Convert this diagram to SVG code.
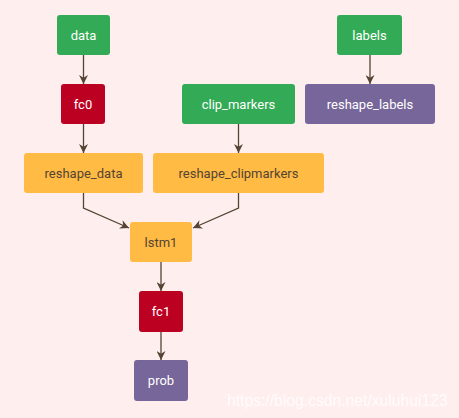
<svg xmlns="http://www.w3.org/2000/svg" width="459" height="418" viewBox="0 0 459 418">
<style>
.n rect{rx:3;ry:3}
.g rect{fill:#33aa55}
.r rect{fill:#bb0022}
.o rect{fill:#ffbb44}
.p rect{fill:#776699}
.n text{font-family:Roboto,"Liberation Sans",sans-serif;font-size:13px;text-anchor:middle;dominant-baseline:central;fill:#ffffff}
.o text{fill:#554433}
.e path{fill:none;stroke:#554433;stroke-width:1.3}
.wm{font-family:"Liberation Sans",Arial,sans-serif;font-size:15.7px;fill:#ffffff;opacity:0.85}
</style>
<defs>
<marker id="a" viewBox="0 0 10 10" refX="10" refY="5" markerWidth="9" markerHeight="9" markerUnits="userSpaceOnUse" orient="auto">
<path d="M0,0 L10,5 L0,10 L3,5 z" fill="#554433"/>
</marker>
</defs>
<rect width="459" height="418" fill="#ffeeee"/>
<g class="e">
<path d="M83.5,55 V84" marker-end="url(#a)"/>
<path d="M83.5,124 V153" marker-end="url(#a)"/>
<path d="M238.5,124 V153" marker-end="url(#a)"/>
<path d="M370,55 V84" marker-end="url(#a)"/>
<path d="M83.5,193 V208 L129,228" marker-end="url(#a)"/>
<path d="M238.5,193 V208 L193,228" marker-end="url(#a)"/>
<path d="M161,262 V291" marker-end="url(#a)"/>
<path d="M161,332 V360" marker-end="url(#a)"/>
</g>
<g id="data" class="n g"><rect x="57" y="15" width="53" height="40"/><text x="83.5" y="35">data</text></g>
<g id="labels" class="n g"><rect x="337" y="15" width="65" height="40"/><text x="369.5" y="35">labels</text></g>
<g id="fc0" class="n r"><rect x="61" y="84" width="44" height="40"/><text x="83" y="104">fc0</text></g>
<g id="clip_markers" class="n g"><rect x="182" y="84" width="113" height="40"/><text x="238.5" y="104">clip_markers</text></g>
<g id="reshape_labels" class="n p"><rect x="305" y="84" width="130" height="40"/><text x="370" y="104">reshape_labels</text></g>
<g id="reshape_data" class="n o"><rect x="24" y="153" width="119" height="40"/><text x="83.5" y="173">reshape_data</text></g>
<g id="reshape_clipmarkers" class="n o"><rect x="153" y="153" width="171" height="40"/><text x="238.5" y="173">reshape_clipmarkers</text></g>
<g id="lstm1" class="n o"><rect x="130" y="222" width="62" height="40"/><text x="161" y="242">lstm1</text></g>
<g id="fc1" class="n r"><rect x="139" y="291" width="44" height="41"/><text x="161" y="311.5">fc1</text></g>
<g id="prob" class="n p"><rect x="134" y="360" width="54" height="41"/><text x="161" y="380.5">prob</text></g>
<text class="wm" x="227" y="406">https://blog.csdn.net/xuluhui123</text>
</svg>
